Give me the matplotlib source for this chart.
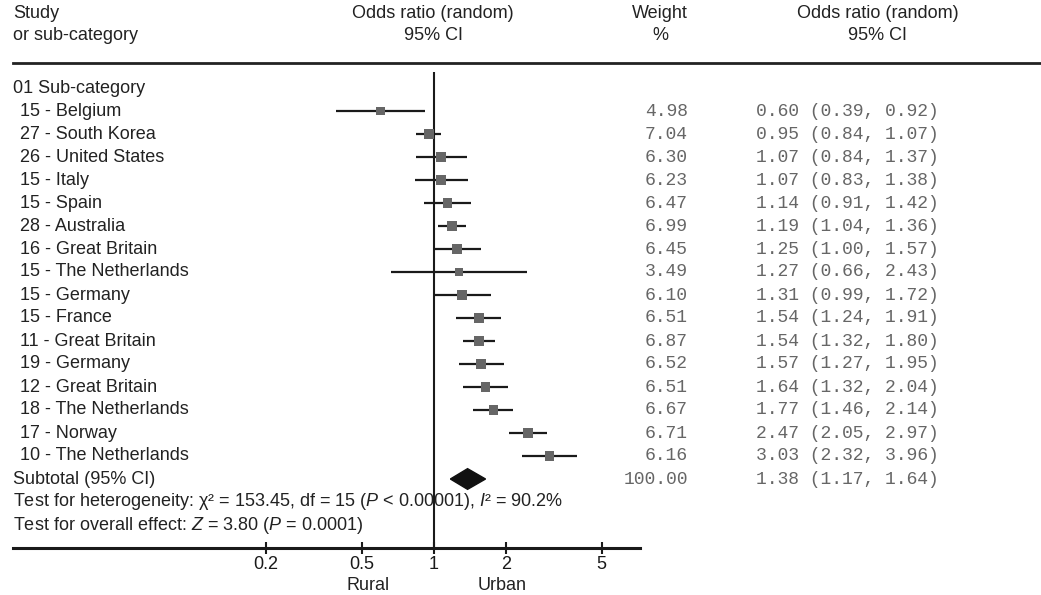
import numpy as np
import matplotlib
matplotlib.use('Agg')
import matplotlib.pyplot as plt
from matplotlib.transforms import blended_transform_factory
from matplotlib.lines import Line2D

plt.rcParams['font.family'] = ['Liberation Sans', 'DejaVu Sans']
plt.rcParams['mathtext.fontset'] = 'custom'
plt.rcParams['mathtext.rm'] = 'Liberation Sans'
plt.rcParams['mathtext.it'] = 'Liberation Sans:italic'

# ── data ───────────────────────────────────────────────────────────
studies = ['15 - Belgium', '27 - South Korea', '26 - United States', '15 - Italy',
           '15 - Spain', '28 - Australia', '16 - Great Britain', '15 - The Netherlands',
           '15 - Germany', '15 - France', '11 - Great Britain', '19 - Germany',
           '12 - Great Britain', '18 - The Netherlands', '17 - Norway',
           '10 - The Netherlands']
weights = [4.98, 7.04, 6.30, 6.23, 6.47, 6.99, 6.45, 3.49,
           6.10, 6.51, 6.87, 6.52, 6.51, 6.67, 6.71, 6.16]
odds = [0.60, 0.95, 1.07, 1.07, 1.14, 1.19, 1.25, 1.27,
        1.31, 1.54, 1.54, 1.57, 1.64, 1.77, 2.47, 3.03]
ci_lo = [0.39, 0.84, 0.84, 0.83, 0.91, 1.04, 1.00, 0.66,
         0.99, 1.24, 1.32, 1.27, 1.32, 1.46, 2.05, 2.32]
ci_hi = [0.92, 1.07, 1.37, 1.38, 1.42, 1.36, 1.57, 2.43,
         1.72, 1.91, 1.80, 1.95, 2.04, 2.14, 2.97, 3.96]
total_w = 100.00
total_or, total_lo, total_hi = 1.38, 1.17, 1.64
xticks = [0.2, 0.5, 1, 2, 5]
xticklabels = ['0.2', '0.5', '1', '2', '5']

# ── layout (pixels of the 1041x595 canvas) ─────────────────────────
W, H = 1041, 595
ROW0, DY = 111, 23          # first study row and row pitch
X_ONE, DEC = 434, 240       # pixel of OR=1, pixels per decade
AX_L, AX_R, AX_T, AX_B = 13, 640, 64, 548
FS = 13


def row(ypix):
    return (ypix - ROW0) / DY


def fx(xpix):
    return xpix / W


fig = plt.figure(figsize=(W / 100, H / 100), dpi=100)
ax = fig.add_axes([fx(AX_L), (H - AX_B) / H, (AX_R - AX_L) / W, (AX_B - AX_T) / H])
ax.set_xscale('log')
ax.set_xlim(10 ** ((AX_L - X_ONE) / DEC), 10 ** ((AX_R - X_ONE) / DEC))
ax.set_ylim(row(AX_B), row(AX_T))

for s in ['top', 'left', 'right']:
    ax.spines[s].set_visible(False)
ax.spines['bottom'].set_linewidth(2.2)
ax.spines['bottom'].set_color('#1a1a1a')
ax.set_yticks([])
ax.set_xticks(xticks)
ax.set_xticklabels(xticklabels)
ax.xaxis.set_minor_locator(matplotlib.ticker.NullLocator())
ax.tick_params(axis='x', direction='inout', length=8, width=1.5, pad=2,
               labelsize=FS, colors='#1a1a1a')

ys = np.arange(len(studies))
ax.vlines(1, row(72), row(AX_B), color='#1a1a1a', lw=1.5, zorder=1)
ax.hlines(ys, ci_lo, ci_hi, color='#1a1a1a', lw=1.6, zorder=2)
side_px = 6.0 + 0.55 * np.array(weights)
ax.scatter(odds, ys, marker='s', s=(side_px / 1.389) ** 2, color='#666666',
           edgecolors='none', zorder=3)

yt = len(studies)
ax.fill([total_lo, total_or, total_hi, total_or], [yt, yt - 0.45, yt, yt + 0.45],
        color='#111111', zorder=3, clip_on=False)

# ── text columns ───────────────────────────────────────────────────
tr = blended_transform_factory(fig.transFigure, ax.transData)
tk = dict(transform=tr, fontsize=FS, color='#222222', va='center', clip_on=False)
mono = dict(transform=tr, fontsize=13, color='#666666', va='center',
            family=['Liberation Mono', 'DejaVu Sans Mono'], clip_on=False)

ax.text(fx(13), row(13), 'Study', ha='left', **tk)
ax.text(fx(13), row(35), 'or sub-category', ha='left', **tk)
ax.text(fx(433), row(13), 'Odds ratio (random)', ha='center', **tk)
ax.text(fx(433), row(35), '95% CI', ha='center', **tk)
ax.text(fx(660), row(13), 'Weight', ha='center', **tk)
ax.text(fx(660), row(35), '%', ha='center', **tk)
ax.text(fx(878), row(13), 'Odds ratio (random)', ha='center', **tk)
ax.text(fx(878), row(35), '95% CI', ha='center', **tk)
fig.add_artist(Line2D([fx(13), 1.0], [row(63), row(63)], transform=tr,
                      color='#222222', lw=2.0))

ax.text(fx(13), -1, '01 Sub-category', ha='left', **tk)
for i, name in enumerate(studies):
    ax.text(fx(20), i, name, ha='left', **tk)
    ax.text(fx(688), i, f'{weights[i]:.2f}', ha='right', **mono)
    ax.text(fx(756), i, f'{odds[i]:.2f} ({ci_lo[i]:.2f}, {ci_hi[i]:.2f})',
            ha='left', **mono)

ax.text(fx(13), yt, 'Subtotal (95% CI)', ha='left', **tk)
ax.text(fx(688), yt, f'{total_w:.2f}', ha='right', **mono)
ax.text(fx(756), yt, f'{total_or:.2f} ({total_lo:.2f}, {total_hi:.2f})', ha='left', **mono)
ax.text(fx(13), yt + 1,
        'Test for heterogeneity: χ² = 153.45, df = 15 ($P$ < 0.00001), $I$² = 90.2%',
        ha='left', **tk)
ax.text(fx(13), yt + 2, 'Test for overall effect: $Z$ = 3.80 ($P$ = 0.0001)',
        ha='left', **tk)

ax.text(fx(368), row(586), 'Rural', ha='center', **tk)
ax.text(fx(502), row(586), 'Urban', ha='center', **tk)

fig.savefig('out.png', dpi=100)
